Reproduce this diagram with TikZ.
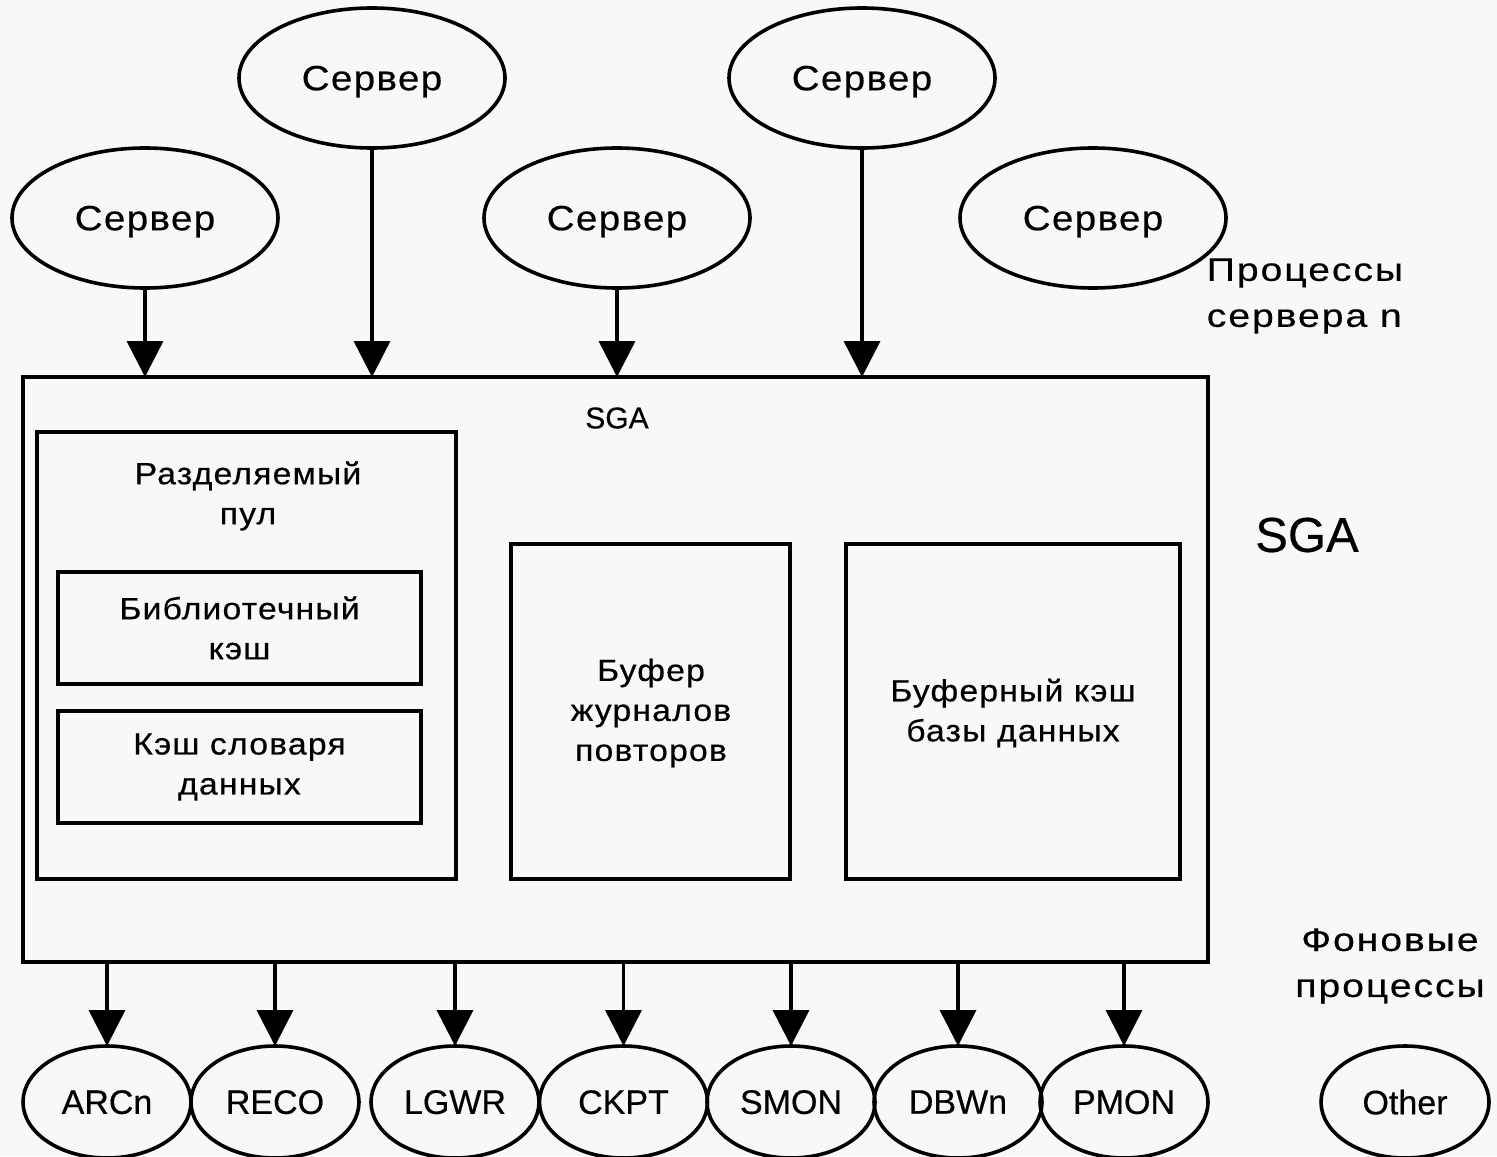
\documentclass[tikz,border=0pt]{standalone}
\usepackage{fontspec}
\setmainfont{Liberation Sans}[FakeBold=0.4]
\newfontfamily\srvfont[FakeStretch=1.1,LetterSpace=4,FakeBold=0.5]{Liberation Sans}
\newfontfamily\cyrfont[FakeStretch=1.1,LetterSpace=4,FakeBold=0.5]{Liberation Sans}
\newfontfamily\notefont[FakeStretch=1.2,LetterSpace=6,FakeBold=0.5]{Liberation Sans}
\usetikzlibrary{arrows.meta,shapes.geometric}
\definecolor{paper}{HTML}{F8F8F8}
\begin{document}
\begin{tikzpicture}[x=0.5pt,y=-0.5pt,
  line width=1.8pt,
  server/.style={ellipse,draw,outer sep=0pt,inner sep=0pt,text depth=0pt,
    minimum width=133pt,minimum height=70pt,
    font=\srvfont\fontsize{17.5}{21}\selectfont},
  bgproc/.style={ellipse,draw,outer sep=0pt,inner sep=0pt,text depth=0pt,
    minimum width=84pt,minimum height=56pt,
    font=\fontsize{17}{20}\selectfont},
  area/.style={rectangle,draw,outer sep=0pt,inner sep=0pt,align=center,
    font=\cyrfont\fontsize{15.3}{20}\selectfont},
  label/.style={inner sep=0pt,align=center,
    font=\cyrfont\fontsize{15.3}{20}\selectfont},
  note/.style={inner sep=0pt,font=\notefont\fontsize{16.3}{23}\selectfont},
  flow/.style={-{Triangle[width=18pt,length=18pt]}}
]
\useasboundingbox[fill=paper] (0,0) rectangle (1497,1156);

% server processes
\node[server] (s1) at (145,218) {Сервер};
\node[server] (s2) at (372,78)  {Сервер};
\node[server] (s3) at (617,218) {Сервер};
\node[server] (s4) at (862,78)  {Сервер};
\node[server] (s5) at (1093,218) {Сервер};
\node[note,anchor=west,align=left] (srvnote) at (1205,296) {Процессы\\сервера n};

% system global area
\node[area,minimum width=592.5pt,minimum height=292.5pt] (sga) at (615.5,669.5) {};
\node[inner sep=0pt,font=\fontsize{15}{18}\selectfont] (sgatitle) at (617,418) {SGA};
\node[inner sep=0pt,font=\fontsize{24.5}{28}\selectfont] (sganote) at (1307,535) {SGA};

% shared pool and its caches
\node[area,minimum width=209.5pt,minimum height=223.5pt] (pool) at (246.5,655.5) {};
\node[label] (pooltitle) at (248,496) {Разделяемый\\пул};
\node[area,minimum width=181.5pt,minimum height=56pt] (libcache) at (239.5,628) {Библиотечный\\кэш};
\node[area,minimum width=181.5pt,minimum height=56pt] (dictcache) at (239.5,767) {Кэш словаря\\данных};

% redo log buffer and database buffer cache
\node[area,minimum width=139.5pt,minimum height=167.5pt] (redo) at (650.5,711.5) {};
\node[label] (redotext) at (651,713) {Буфер\\журналов\\повторов};
\node[area,minimum width=167pt,minimum height=167.5pt] (bufcache) at (1013,711.5) {};
\node[label] (buftext) at (1013,713) {Буферный кэш\\базы данных};

% background processes
\node[note,align=center] (bgnote) at (1390,966) {Фоновые\\процессы};
\node[bgproc] (arc)  at (107,1102)  {ARCn};
\node[bgproc] (reco) at (275,1102)  {RECO};
\node[bgproc] (lgwr) at (455,1102)  {LGWR};
\node[bgproc] (ckpt) at (623.5,1102) {CKPT};
\node[bgproc] (smon) at (791,1102)  {SMON};
\node[bgproc] (dbwn) at (958,1102)  {DBWn};
\node[bgproc] (pmon) at (1124,1102) {PMON};
\node[bgproc] (other) at (1405,1102) {Other};

% server processes attach to the SGA
\foreach \s in {s1,s2,s3,s4}
  \draw[flow] (\s) -- (\s |- sga.north);

% the SGA feeds the background processes
\foreach \p in {arc,reco,lgwr,ckpt,smon,dbwn,pmon}
  \draw[flow] (\p |- sga.south) -- (\p);
\end{tikzpicture}
\end{document}
